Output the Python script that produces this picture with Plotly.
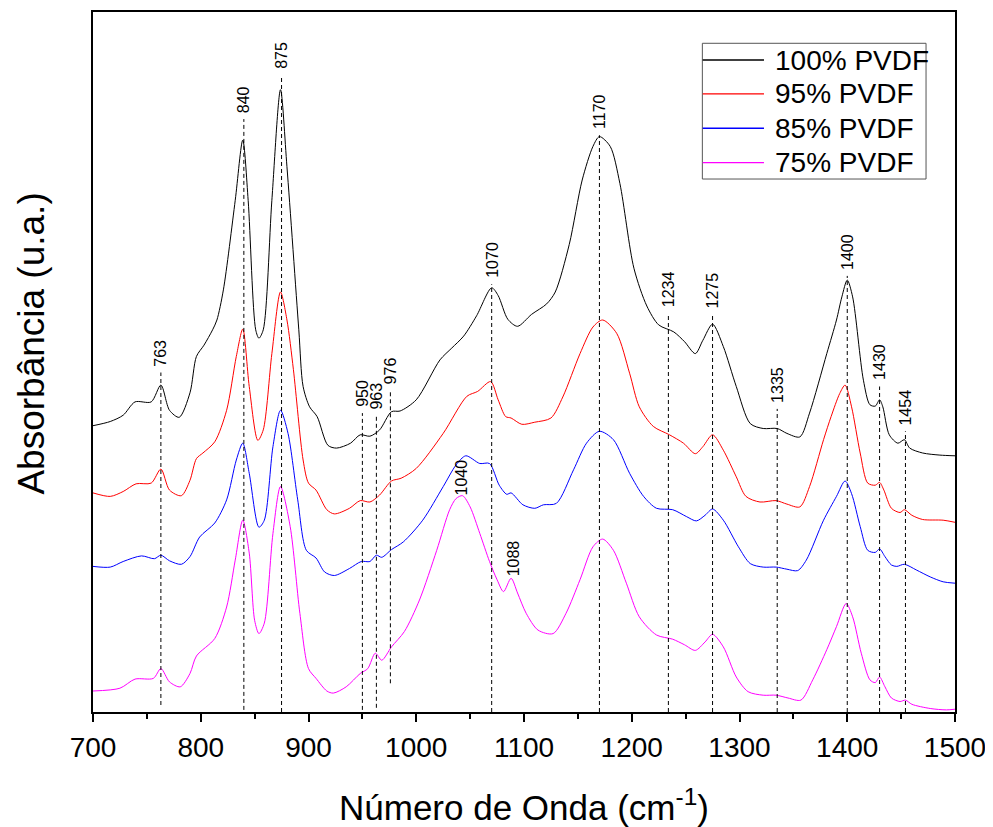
import plotly.graph_objects as go

# Espectros FTIR (absorbância em unidades arbitrárias, curvas deslocadas)
w_100 = [700, 716, 728, 739, 754, 763, 771, 780, 790, 796, 803, 811, 815, 821, 832, 839, 844, 851, 854, 858,
         866, 874, 880, 891, 895, 901, 908, 918, 926, 939, 948, 957, 966, 977, 985, 1000, 1022, 1033, 1044,
         1056, 1070, 1076, 1085, 1094, 1107, 1121, 1129, 1142, 1154, 1164, 1170, 1180, 1189, 1202, 1214,
         1225, 1239, 1249, 1259, 1266, 1275, 1285, 1297, 1310, 1322, 1335, 1344, 1356, 1365, 1381, 1390,
         1395, 1400, 1405, 1415, 1421, 1426, 1430, 1433, 1439, 1447, 1453, 1458, 1470, 1486, 1500]
a_100 = [0.409, 0.415, 0.424, 0.443, 0.443, 0.467, 0.431, 0.421, 0.456, 0.508, 0.524, 0.546, 0.560, 0.603,
         0.731, 0.817, 0.731, 0.546, 0.534, 0.546, 0.731, 0.889, 0.779, 0.546, 0.465, 0.436, 0.422, 0.381,
         0.377, 0.384, 0.396, 0.394, 0.403, 0.429, 0.430, 0.446, 0.503, 0.520, 0.537, 0.566, 0.606, 0.595,
         0.561, 0.551, 0.568, 0.583, 0.600, 0.668, 0.760, 0.808, 0.822, 0.808, 0.755, 0.634, 0.580, 0.553,
         0.543, 0.529, 0.512, 0.531, 0.554, 0.522, 0.465, 0.412, 0.405, 0.405, 0.398, 0.393, 0.427, 0.512,
         0.560, 0.593, 0.617, 0.593, 0.474, 0.439, 0.437, 0.446, 0.436, 0.396, 0.384, 0.389, 0.377, 0.370,
         0.367, 0.366]

w_95 = [700, 716, 728, 740, 754, 763, 771, 782, 790, 796, 802, 813, 824, 833, 839, 845, 853, 858, 866, 874,
        880, 886, 895, 900, 907, 917, 924, 938, 948, 957, 966, 977, 986, 1000, 1025, 1047, 1057, 1069, 1076,
        1083, 1088, 1098, 1110, 1125, 1136, 1152, 1164, 1173, 1186, 1198, 1207, 1220, 1235, 1248, 1259, 1266,
        1275, 1285, 1297, 1306, 1319, 1334, 1344, 1356, 1365, 1378, 1385, 1393, 1398, 1404, 1412, 1419, 1426,
        1430, 1434, 1441, 1449, 1453, 1460, 1470, 1489, 1500]
a_95 = [0.313, 0.308, 0.315, 0.326, 0.327, 0.347, 0.317, 0.309, 0.331, 0.362, 0.370, 0.386, 0.431, 0.508,
        0.547, 0.465, 0.388, 0.403, 0.512, 0.600, 0.560, 0.489, 0.360, 0.327, 0.317, 0.289, 0.283, 0.291,
        0.302, 0.300, 0.310, 0.330, 0.334, 0.348, 0.398, 0.451, 0.458, 0.472, 0.446, 0.422, 0.420, 0.411,
        0.414, 0.420, 0.450, 0.512, 0.550, 0.560, 0.541, 0.484, 0.436, 0.408, 0.396, 0.384, 0.369, 0.379,
        0.396, 0.374, 0.336, 0.308, 0.300, 0.302, 0.297, 0.293, 0.322, 0.389, 0.422, 0.455, 0.467, 0.436,
        0.370, 0.327, 0.324, 0.328, 0.317, 0.291, 0.285, 0.289, 0.281, 0.275, 0.274, 0.271]

w_85 = [700, 716, 728, 745, 757, 763, 771, 782, 790, 799, 813, 824, 833, 839, 845, 854, 859, 867, 874, 881,
        890, 898, 907, 915, 924, 938, 949, 957, 963, 968, 977, 988, 1006, 1025, 1037, 1046, 1059, 1068, 1077,
        1084, 1088, 1099, 1110, 1118, 1130, 1146, 1158, 1170, 1183, 1198, 1211, 1223, 1238, 1251, 1260, 1268,
        1275, 1285, 1299, 1310, 1322, 1334, 1344, 1354, 1362, 1378, 1390, 1398, 1404, 1412, 1419, 1426, 1430,
        1435, 1441, 1446, 1453, 1464, 1477, 1489, 1500]
a_85 = [0.208, 0.207, 0.215, 0.223, 0.219, 0.224, 0.216, 0.211, 0.222, 0.250, 0.270, 0.303, 0.360, 0.384,
        0.341, 0.264, 0.274, 0.379, 0.431, 0.398, 0.303, 0.231, 0.220, 0.200, 0.195, 0.205, 0.215, 0.215,
        0.224, 0.221, 0.232, 0.243, 0.274, 0.322, 0.353, 0.366, 0.355, 0.355, 0.324, 0.311, 0.313, 0.296,
        0.291, 0.296, 0.298, 0.346, 0.384, 0.401, 0.389, 0.341, 0.308, 0.291, 0.289, 0.279, 0.273, 0.281,
        0.290, 0.274, 0.236, 0.212, 0.207, 0.207, 0.204, 0.202, 0.217, 0.274, 0.308, 0.330, 0.312, 0.265,
        0.231, 0.228, 0.233, 0.222, 0.210, 0.208, 0.211, 0.203, 0.193, 0.186, 0.184]

w_75 = [700, 725, 739, 756, 763, 771, 781, 790, 796, 813, 824, 832, 839, 845, 850, 854, 859, 867, 874, 883,
        892, 900, 907, 917, 923, 935, 948, 955, 962, 968, 977, 989, 1003, 1019, 1031, 1037, 1043, 1050, 1059,
        1068, 1075, 1081, 1088, 1094, 1102, 1113, 1127, 1139, 1152, 1164, 1173, 1183, 1195, 1207, 1223, 1238,
        1249, 1259, 1268, 1275, 1285, 1297, 1308, 1322, 1334, 1345, 1357, 1368, 1381, 1390, 1399, 1405, 1413,
        1421, 1426, 1430, 1435, 1441, 1449, 1454, 1460, 1477, 1492, 1500]
a_75 = [0.030, 0.034, 0.047, 0.048, 0.062, 0.043, 0.036, 0.055, 0.080, 0.105, 0.150, 0.217, 0.274, 0.227,
        0.131, 0.112, 0.127, 0.255, 0.322, 0.265, 0.141, 0.062, 0.048, 0.030, 0.027, 0.036, 0.055, 0.062,
        0.084, 0.074, 0.093, 0.115, 0.160, 0.231, 0.289, 0.305, 0.309, 0.293, 0.255, 0.215, 0.189, 0.172,
        0.191, 0.170, 0.141, 0.117, 0.112, 0.141, 0.189, 0.236, 0.247, 0.231, 0.184, 0.136, 0.110, 0.104,
        0.096, 0.088, 0.100, 0.111, 0.093, 0.050, 0.029, 0.024, 0.024, 0.020, 0.017, 0.046, 0.089, 0.122,
        0.155, 0.136, 0.084, 0.046, 0.042, 0.050, 0.036, 0.020, 0.015, 0.017, 0.011, 0.005, 0.003, 0.004]

# Bandas marcadas com linha tracejada
picos = [763, 840, 875, 950, 963, 976, 1070, 1170, 1234, 1275, 1335, 1400, 1430, 1454]
# Bandas só com rótulo (curva 75%)
picos_sem_linha = [1040, 1088]

nomes = ['100% PVDF', '95% PVDF', '85% PVDF', '75% PVDF']
cores = ['black', 'red', 'blue', 'magenta']
ws = [w_100, w_95, w_85, w_75]
absorb = [a_100, a_95, a_85, a_75]

# posição vertical dos rótulos / fim das linhas (unidades do eixo y)
rotulo_y = [0.491, 0.853, 0.916, 0.433, 0.429, 0.465, 0.617, 0.830, 0.576, 0.573, 0.439, 0.629, 0.471, 0.407]
linha_fim = [0.010, 0.003, 0.0, 0.003, 0.006, 0.041, 0.0, 0.0, 0.0, 0.0, 0.0, 0.0, 0.0, 0.0]
rotulo_y_sem_linha = [0.307, 0.191]

fonte = 'Liberation Sans, Arial, sans-serif'

fig = go.Figure()
for nome, w, a, cor in zip(nomes, ws, absorb, cores):
    fig.add_trace(go.Scatter(x=w, y=a, name=nome, mode='lines', showlegend=False,
                             line=dict(color=cor, width=1, shape='spline', smoothing=0.8)))

for p, ytop, ybot in zip(picos, rotulo_y, linha_fim):
    fig.add_shape(type='line', x0=p, x1=p, y0=ybot, y1=ytop - 0.006,
                  line=dict(color='black', width=1, dash='4px,3px'))
    fig.add_annotation(x=p, y=ytop, text=str(p), textangle=-90, showarrow=False,
                       xanchor='center', yanchor='bottom', font=dict(size=16, color='black'))

for p, ytop in zip(picos_sem_linha, rotulo_y_sem_linha):
    fig.add_annotation(x=p, y=ytop, text=str(p), textangle=-90, showarrow=False, xshift=2,
                       xanchor='center', yanchor='bottom', font=dict(size=16, color='black'))

# legenda desenhada à mão (caixa, linhas e textos)
fig.add_shape(type='rect', xref='paper', yref='paper', x0=0.7069, x1=0.9664, y0=0.7614, y1=0.9553,
              line=dict(color='#555555', width=1), fillcolor='white', layer='above')
leg_y = [0.9314, 0.8829, 0.8339, 0.7847]
for nome, cor, yy in zip(nomes, cores, leg_y):
    fig.add_shape(type='line', xref='paper', yref='paper', x0=0.7073, x1=0.7784, y0=yy, y1=yy,
                  line=dict(color=cor, width=1.3))
    fig.add_annotation(text=nome, xref='paper', yref='paper', x=0.7885, y=yy, showarrow=False,
                       xanchor='left', yanchor='middle', font=dict(size=28, color='black'))

fig.add_annotation(text='Absorbância (u.a.)', xref='paper', yref='paper', x=-0.071, y=0.526,
                   xanchor='center', yanchor='middle',
                   textangle=-90, showarrow=False, font=dict(size=37, color='black'))

# a página tem margem de 8 px: figura e margens compensadas
fig.update_layout(
    width=985, height=819,
    margin=dict(l=85, r=38, t=4, b=115),
    plot_bgcolor='white', paper_bgcolor='white',
    font=dict(family=fonte, color='black'),
    showlegend=False,
)
fig.update_xaxes(range=[700, 1500], showline=True, linecolor='black', linewidth=2, mirror=True,
                 ticks='outside', ticklen=8, tickwidth=2, tickcolor='black', dtick=100,
                 minor=dict(ticks='outside', ticklen=5, tickwidth=2, tickcolor='black', dtick=50),
                 showgrid=False, zeroline=False, tickfont=dict(size=28), ticklabelstandoff=1,
                 automargin=False, ticklabeloverflow='allow',
                 title=dict(text='Número de Onda (cm<sup>-1</sup>)', font=dict(size=35), standoff=40))
fig.update_yaxes(range=[0, 1], showline=True, linecolor='black', linewidth=2, mirror=True,
                 ticks='', showticklabels=False, showgrid=False, zeroline=False, automargin=False)

fig.write_html('out.html')
